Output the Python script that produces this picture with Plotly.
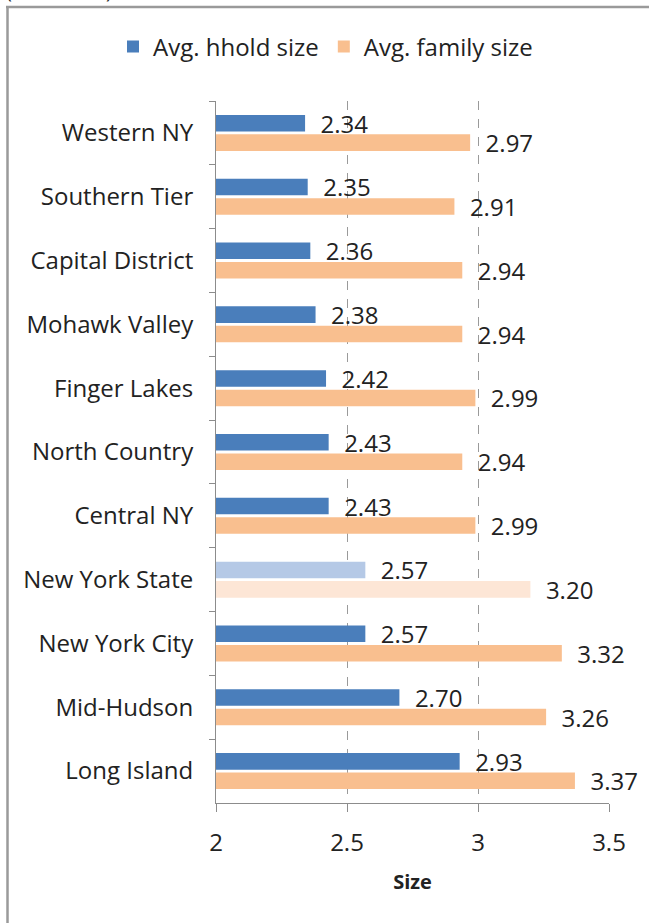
import plotly.graph_objects as go

regions = ["Western NY", "Southern Tier", "Capital District", "Mohawk Valley",
           "Finger Lakes", "North Country", "Central NY", "New York State",
           "New York City", "Mid-Hudson", "Long Island"]
hhold_size = [2.34, 2.35, 2.36, 2.38, 2.42, 2.43, 2.43, 2.57, 2.57, 2.70, 2.93]
family_size = [2.97, 2.91, 2.94, 2.94, 2.99, 2.94, 2.99, 3.20, 3.32, 3.26, 3.37]
x_ticks = [2, 2.5, 3, 3.5]

BLUE, BLUE_L = "#4A7EBB", "#B5C9E6"
ORANGE, ORANGE_L = "#F9BF8F", "#FDE6D6"
hl = "New York State"
blue_cols = [BLUE_L if r == hl else BLUE for r in regions]
orange_cols = [ORANGE_L if r == hl else ORANGE for r in regions]

FONT = "Open Sans, Lato, sans-serif"
FS = 24
W, H = 649, 923
ML, MR, MT, MB = 216, 40, 101, 120
PW, PH = W - ML - MR, H - MT - MB

def px_x(p):
    return (p - ML) / PW

def px_y(p):
    return (H - MB - p) / PH

fig = go.Figure()
fig.add_trace(go.Bar(
    name="Avg. hhold size", y=regions, x=hhold_size, orientation="h",
    marker=dict(color=blue_cols, line=dict(width=0)),
    texttemplate="\u00a0\u00a0%{x:.2f}", textposition="outside", constraintext="none",
    textfont=dict(size=FS, color="#222", family=FONT), cliponaxis=False,
))
fig.add_trace(go.Bar(
    name="Avg. family size", y=regions, x=family_size, orientation="h",
    marker=dict(color=orange_cols, line=dict(width=0)),
    texttemplate="\u00a0\u00a0%{x:.2f}", textposition="outside", constraintext="none",
    textfont=dict(size=FS, color="#222", family=FONT), cliponaxis=False,
))

fig.update_layout(
    width=W, height=H,
    margin=dict(l=ML, r=MR, t=MT, b=MB, autoexpand=False),
    paper_bgcolor="white", plot_bgcolor="white",
    barmode="group", bargap=0.39, bargroupgap=0.15,
    font=dict(family=FONT, size=FS, color="#222"),
    showlegend=True,
    legend=dict(orientation="h", x=px_x(113), xanchor="left",
                y=px_y(47), yanchor="middle", font=dict(size=FS, color="#222"),
                traceorder="normal", itemwidth=30, bgcolor="rgba(0,0,0,0)"),
    xaxis=dict(range=[2, 3.5], tickvals=x_ticks, ticktext=[f"{v:g}" for v in x_ticks],
               showgrid=True, gridcolor="#9a9a9a", griddash="dash", gridwidth=1,
               showline=True, linecolor="#8c8c8c", linewidth=1,
               ticks="outside", ticklen=8, tickcolor="#8c8c8c",
               tickfont=dict(size=FS, color="#222"), zeroline=False,
               ticklabelstandoff=10,
               title=dict(text="<b>Size</b>", font=dict(size=20, color="#222"), standoff=18)),
    yaxis=dict(autorange="reversed", showline=True, linecolor="#8c8c8c", linewidth=1,
               ticks="outside", ticklen=6, tickcolor="#8c8c8c", tickson="boundaries",
               showgrid=False, tickfont=dict(size=FS, color="#222"),
               ticklabelstandoff=17),
    shapes=[
        dict(type="line", xref="paper", yref="paper",
             x0=px_x(6), x1=px_x(700), y0=px_y(7), y1=px_y(7),
             line=dict(color="#9a9a9a", width=2.5)),
        dict(type="line", xref="paper", yref="paper",
             x0=px_x(7.5), x1=px_x(7.5), y0=px_y(6), y1=px_y(980),
             line=dict(color="#9a9a9a", width=2.5)),
    ],
    annotations=[dict(text="(continued)", xref="paper", yref="paper",
                      x=px_x(4), xanchor="left", y=px_y(6), yanchor="bottom",
                      showarrow=False, font=dict(size=20, color="#222"))],
)

fig.write_html("out.html", config={"displayModeBar": False},
               post_script="document.body.style.margin='0';document.body.style.overflow='hidden';")
